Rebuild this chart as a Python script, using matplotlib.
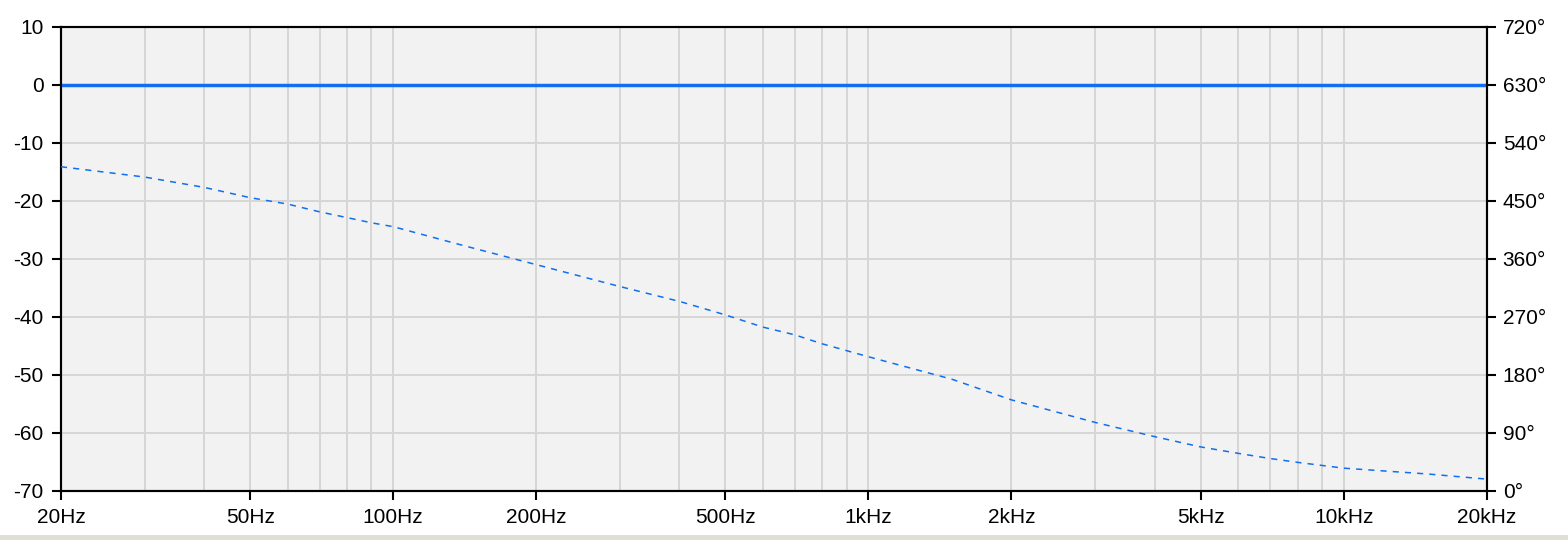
import matplotlib.pyplot as plt
import matplotlib.patches as mpatches
from matplotlib.ticker import FixedLocator, NullFormatter, NullLocator

plt.rcParams["axes.unicode_minus"] = False

# frequency response: magnitude (dB) and phase (deg)
freq_mag = [20, 20000]
mag_db = [0, 0]

freq_phase = [20, 30, 40, 50, 60, 70, 80, 90, 100, 140, 200, 300, 400, 500,
              600, 700, 800, 1000, 1500, 2000, 3000, 4000, 5000, 6000, 7000,
              8000, 10000, 15000, 20000]
phase_deg = [503, 487, 471, 455, 445, 433, 424, 416, 410, 381, 351, 317, 294, 273,
             254, 242, 228, 208, 173, 141, 106, 84, 68, 58, 50,
             44, 35, 26, 18]

x_ticks = [20, 50, 100, 200, 500, 1000, 2000, 5000, 10000, 20000]
x_labels = ["20Hz", "50Hz", "100Hz", "200Hz", "500Hz", "1kHz", "2kHz", "5kHz", "10kHz", "20kHz"]
db_ticks = [10, 0, -10, -20, -30, -40, -50, -60, -70]
deg_ticks = [0, 90, 180, 270, 360, 450, 540, 630, 720]

blue = "#0f6ff0"
grid_c = "#d6d6d6"
font = "Liberation Sans"
fs = 15

fig = plt.figure(figsize=(15.68, 5.4), dpi=100)
fig.patch.set_facecolor("white")
fig.patches.append(mpatches.Rectangle((0, 0), 1, 5 / 540, transform=fig.transFigure,
                                      facecolor="#e0ded6", edgecolor="none"))

ax = fig.add_axes([61 / 1568, 1 - 490.7 / 540, (1486.7 - 61) / 1568, (490.7 - 27) / 540])
ax.set_facecolor("#f2f2f2")
ax.set_xscale("log")
ax.set_xlim(20, 20000)
ax.set_ylim(-70, 10)

# grid: vertical lines at every log minor position, horizontal every 10 dB
grid_x = [m * 10 ** e for e in range(1, 5) for m in range(1, 10) if 20 <= m * 10 ** e <= 20000]
for gx in grid_x:
    ax.axvline(gx, color=grid_c, lw=1.4, zorder=0)
for gy in db_ticks:
    ax.axhline(gy, color=grid_c, lw=1.4, zorder=0)

ax.xaxis.set_major_locator(FixedLocator(x_ticks))
ax.xaxis.set_minor_locator(NullLocator())
ax.xaxis.set_minor_formatter(NullFormatter())
ax.set_xticklabels(x_labels)
ax.set_yticks(db_ticks)

ax2 = ax.twinx()
ax2.set_ylim(0, 720)
ax2.set_yticks(deg_ticks)
ax2.set_yticklabels([f"{d}°" for d in deg_ticks])

ax2.plot(freq_phase, phase_deg, color=blue, lw=1.1, linestyle=(0, (4, 4)), zorder=3)
ax.plot(freq_mag, mag_db, color=blue, lw=2.5, zorder=4, solid_capstyle="butt")

for a in (ax, ax2):
    for s in a.spines.values():
        s.set_linewidth(1.5)
        s.set_color("black")
    a.tick_params(axis="both", which="major", length=6.5, width=1.5, labelsize=fs,
                  colors="black", direction="out")
    for lbl in a.get_xticklabels() + a.get_yticklabels():
        lbl.set_fontfamily(font)
ax.tick_params(axis="x", pad=6)
ax.tick_params(axis="y", pad=6)
ax2.tick_params(axis="y", pad=5)

fig.savefig("out.png", dpi=100)
